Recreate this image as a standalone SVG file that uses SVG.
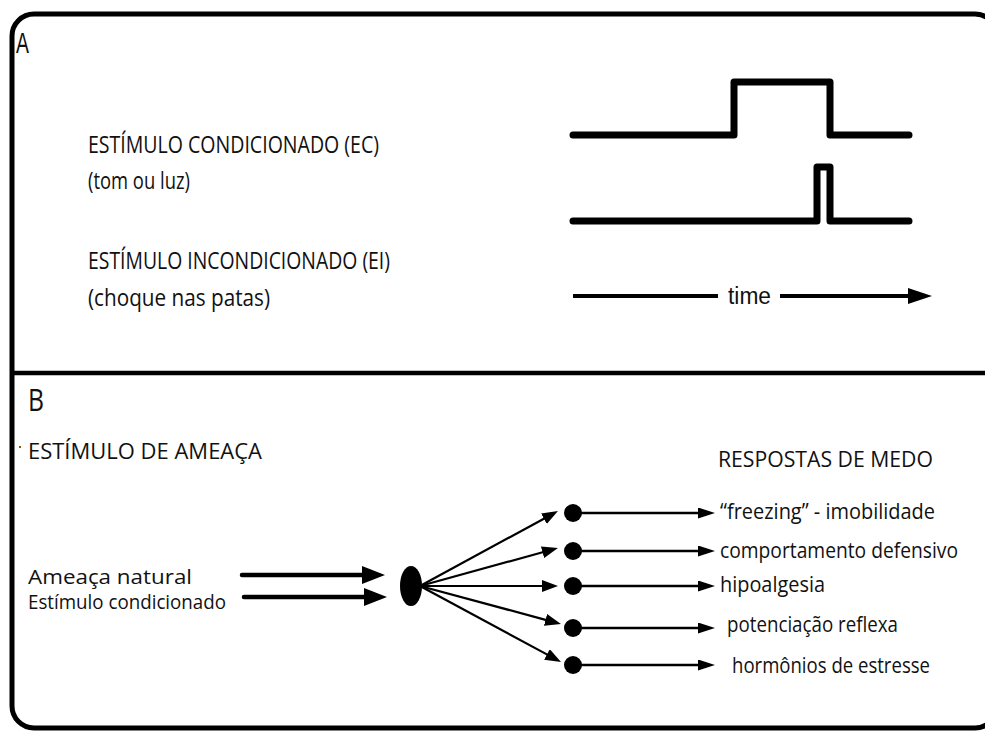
<svg xmlns="http://www.w3.org/2000/svg" width="985" height="731" viewBox="0 0 985 731">
<style>
.t{font-family:"Open Sans","Noto Sans","DejaVu Sans",sans-serif;fill:#111;}
.lbl{font-family:"Liberation Sans","Arial",sans-serif;fill:#111;}
.wave{fill:none;stroke:#000;stroke-width:7;stroke-linejoin:round;stroke-linecap:round;}
.thick{stroke:#000;stroke-width:4.5;fill:none;stroke-linecap:round;}
.thin{stroke:#000;stroke-width:2.2;fill:none;}
.resp{stroke:#000;stroke-width:2.6;fill:none;}
</style>
<defs>
<marker id="ah-big" markerUnits="userSpaceOnUse" viewBox="0 0 23 18" markerWidth="23" markerHeight="18" refX="1" refY="9" orient="auto"><path d="M0,0 L23,9 L0,18 z" fill="#000"/></marker>
<marker id="ah-time" markerUnits="userSpaceOnUse" viewBox="0 0 24 16" markerWidth="24" markerHeight="16" refX="1" refY="8" orient="auto"><path d="M0,0 L24,8 L0,16 z" fill="#000"/></marker>
<marker id="ah-thin" markerUnits="userSpaceOnUse" viewBox="0 0 16 12" markerWidth="16" markerHeight="12" refX="1" refY="6" orient="auto"><path d="M0,0 L16,6 L0,12 z" fill="#000"/></marker>
<marker id="ah-resp" markerUnits="userSpaceOnUse" viewBox="0 0 17 11" markerWidth="17" markerHeight="11" refX="1" refY="5.5" orient="auto"><path d="M0,0 L17,5.5 L0,11 z" fill="#000"/></marker>
</defs>
<rect width="985" height="731" fill="#fff"/>
<!-- frame -->
<g id="frame">
<rect x="12" y="14" width="985" height="714" rx="22" ry="22" fill="none" stroke="#000" stroke-width="5"/>
<line x1="12" y1="373" x2="985" y2="373" stroke="#000" stroke-width="4.5"/>
</g>
<!-- Panel A -->
<g id="panelA">
<text class="lbl" x="16" y="53" font-size="29" textLength="13" lengthAdjust="spacingAndGlyphs">A</text>
<g id="ec-label">
<text class="t" x="88" y="153" font-size="23" textLength="291" lengthAdjust="spacingAndGlyphs">ESTÍMULO CONDICIONADO (EC)</text>
<text class="t" x="88" y="189" font-size="23" textLength="102" lengthAdjust="spacingAndGlyphs">(tom ou luz)</text>
</g>
<g id="ei-label">
<text class="t" x="88" y="269" font-size="23" textLength="302" lengthAdjust="spacingAndGlyphs">ESTÍMULO INCONDICIONADO (EI)</text>
<text class="t" x="88" y="306" font-size="23" textLength="182" lengthAdjust="spacingAndGlyphs">(choque nas patas)</text>
</g>
<g id="ec-wave"><path class="wave" d="M573,135 H734 V82 H830 V135 H909"/></g>
<g id="ei-wave"><path class="wave" d="M573,221 H817 V167 H830 V221 H909"/></g>
<g id="time-axis">
<line x1="573" y1="296" x2="718" y2="296" stroke="#000" stroke-width="4"/>
<text class="lbl" x="728" y="304" font-size="23" textLength="43" lengthAdjust="spacingAndGlyphs">time</text>
<line x1="780" y1="296" x2="909" y2="296" stroke="#000" stroke-width="4" marker-end="url(#ah-time)"/>
</g>
</g>
<!-- Panel B -->
<g id="panelB">
<text class="t" x="28" y="411" font-size="31" textLength="16" lengthAdjust="spacingAndGlyphs">B</text>
<rect x="19" y="446" width="2" height="2" fill="#8a5a2a"/>
<text class="t" x="28" y="459" font-size="22" textLength="234" lengthAdjust="spacingAndGlyphs">ESTÍMULO DE AMEAÇA</text>
<text class="t" x="718" y="467" font-size="22" textLength="215" lengthAdjust="spacingAndGlyphs">RESPOSTAS DE MEDO</text>
<g id="inputs">
<text class="t" x="28" y="584" font-size="20" textLength="164" lengthAdjust="spacingAndGlyphs">Ameaça natural</text>
<text class="t" x="28" y="609" font-size="20" textLength="198" lengthAdjust="spacingAndGlyphs">Estímulo condicionado</text>
</g>
<g id="hub"><ellipse cx="411" cy="586" rx="11" ry="20" fill="#000"/></g>
<g id="dot1"><circle cx="573" cy="513" r="9" fill="#000"/><text class="t" x="720" y="519" font-size="21" textLength="215" lengthAdjust="spacingAndGlyphs">“freezing” - imobilidade</text></g>
<g id="dot2"><circle cx="573" cy="551" r="9" fill="#000"/><text class="t" x="720" y="558" font-size="21" textLength="238" lengthAdjust="spacingAndGlyphs">comportamento defensivo</text></g>
<g id="dot3"><circle cx="573" cy="586" r="9" fill="#000"/><text class="t" x="720" y="592" font-size="21" textLength="105" lengthAdjust="spacingAndGlyphs">hipoalgesia</text></g>
<g id="dot4"><circle cx="573" cy="628" r="9" fill="#000"/><text class="t" x="727" y="632" font-size="21" textLength="171" lengthAdjust="spacingAndGlyphs">potenciação reflexa</text></g>
<g id="dot5"><circle cx="573" cy="665" r="9" fill="#000"/><text class="t" x="732" y="673" font-size="21" textLength="198" lengthAdjust="spacingAndGlyphs">hormônios de estresse</text></g>
</g>
<!-- connectors -->
<g id="connectors">
<line class="thick" x1="242" y1="575" x2="363" y2="575" marker-end="url(#ah-big)"/>
<line class="thick" x1="244" y1="597" x2="365" y2="597" marker-end="url(#ah-big)"/>
<line class="thin" x1="420" y1="586" x2="544.8" y2="518.2" marker-end="url(#ah-thin)"/>
<line class="thin" x1="420" y1="586" x2="543.5" y2="552" marker-end="url(#ah-thin)"/>
<line class="thin" x1="420" y1="586" x2="543" y2="586" marker-end="url(#ah-thin)"/>
<line class="thin" x1="420" y1="586" x2="546.5" y2="620.1" marker-end="url(#ah-thin)"/>
<line class="thin" x1="420" y1="586" x2="547.8" y2="654.9" marker-end="url(#ah-thin)"/>
<line class="resp" x1="573" y1="513" x2="699" y2="513" marker-end="url(#ah-resp)"/>
<line class="resp" x1="573" y1="551" x2="699" y2="551" marker-end="url(#ah-resp)"/>
<line class="resp" x1="573" y1="586" x2="699" y2="586" marker-end="url(#ah-resp)"/>
<line class="resp" x1="573" y1="628" x2="699" y2="628" marker-end="url(#ah-resp)"/>
<line class="resp" x1="573" y1="665" x2="699" y2="665" marker-end="url(#ah-resp)"/>
</g>
</svg>
